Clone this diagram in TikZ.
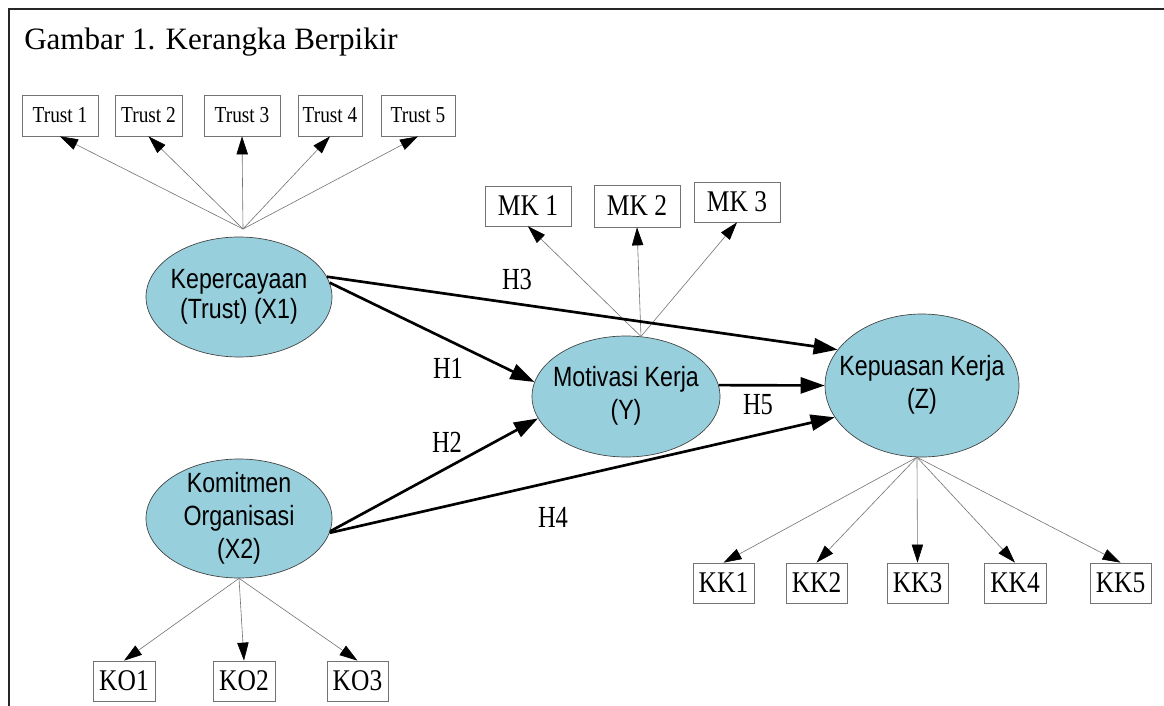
\documentclass[tikz,border=0pt]{standalone}
\usepackage{fontspec}
\usepackage{graphicx}
\setmainfont{Liberation Serif}
\setsansfont{Liberation Sans}
\usetikzlibrary{arrows.meta,shapes.geometric}
\definecolor{lv}{RGB}{151,207,220}
\newcommand{\vst}[2][1.18]{\scalebox{1}[#1]{#2}}
\newcommand{\ellt}[1]{\smash{\makebox[0pt]{\raisebox{-0.3em}{\scalebox{1}[1.2]{\begin{tabular}{@{}c@{}}#1\end{tabular}}}}}}
\begin{document}
\begin{tikzpicture}[x=0.75pt,y=-0.75pt,
  ind/.style={draw=black!55, line width=0.55pt, fill=white, inner sep=0pt, minimum height=30pt, font=\fontsize{19.1}{22}\selectfont},
  tr/.style={ind, font=\fontsize{14.5}{17}\selectfont, minimum height=30.75pt},
  lat/.style={ellipse, draw=black!75, line width=0.5pt, fill=lv, inner sep=0pt, font=\sffamily\fontsize{17.4}{20.6}\selectfont},
  ldarr/.style={draw=black!55, line width=0.45pt, -{Triangle[length=13.5pt,width=8.5pt,color=black]}},
  bdarr/.style={draw=black, line width=2pt, -{Triangle[length=18pt,width=12pt]}},
  hl/.style={inner sep=0pt, font=\fontsize{18.4}{20}\selectfont}]
\useasboundingbox (0,0) rectangle (1164,706);
\fill[white] (0,0) rectangle (1164,706);
\draw[line width=1.5pt, black!85] (9,706) -- (9,9) -- (1164,9);
\node[anchor=base west, inner sep=0pt, font=\fontsize{23.3}{27}\selectfont] (title) at (24,50) {Gambar 1. Kerangka Berpikir};

% indicator boxes: Trust
\node[tr, minimum width=57pt]    (t1) at (60,115.5)  {\vst{Trust 1}};
\node[tr, minimum width=50.25pt] (t2) at (148.5,115.5) {\vst{Trust 2}};
\node[tr, minimum width=57pt]    (t3) at (242,115.5) {\vst{Trust 3}};
\node[tr, minimum width=48pt]    (t4) at (330,115.5) {\vst{Trust 4}};
\node[tr, minimum width=55.5pt]  (t5) at (418,115.5) {\vst{Trust 5}};

% MK boxes
\node[ind, minimum width=64.5pt]  (mk1) at (528,206) {\vst{MK 1}};
\node[ind, minimum width=64.5pt, minimum height=31.5pt] (mk2) at (637,206) {\vst{MK 2}};
\node[ind, minimum width=64.5pt]  (mk3) at (737,202) {\vst{MK 3}};

% KK boxes
\node[ind, minimum width=45.75pt] (kk1) at (723.5,583) {\vst{KK1}};
\node[ind, minimum width=45.75pt] (kk2) at (816.5,583) {\vst{KK2}};
\node[ind, minimum width=45.75pt] (kk3) at (917.5,583) {\vst{KK3}};
\node[ind, minimum width=46.5pt]  (kk4) at (1015,583) {\vst{KK4}};
\node[ind, minimum width=45.75pt] (kk5) at (1120.5,583) {\vst{KK5}};

% KO boxes
\node[ind, minimum width=46.5pt]  (ko1) at (124,681) {\vst{KO1}};
\node[ind, minimum width=46.5pt]  (ko2) at (244,681) {\vst{KO2}};
\node[ind, minimum width=45.75pt] (ko3) at (357.5,681) {\vst{KO3}};

% latent variables
\node[lat, minimum width=139.5pt, minimum height=90pt, font=\sffamily\fontsize{17.4}{18.75}\selectfont] (kep) at (239,297) {\ellt{Kepercayaan\\(Trust) (X1)}};
\node[lat, minimum width=139.5pt, minimum height=89.25pt] (kom) at (239,518.5) {\ellt{Komitmen\\Organisasi\\(X2)}};
\node[lat, minimum width=141pt, minimum height=90.75pt] (mot) at (626,396.5) {\ellt{Motivasi Kerja\\(Y)}};
\node[lat, minimum width=145.5pt, minimum height=107.25pt] (kpz) at (922,385.5) {\ellt{Kepuasan Kerja\\(Z)}};

\coordinate (kepo) at (243,229);

% reflective indicator arrows
\foreach \t in {t1,t2,t3,t4,t5} \draw[ldarr] (kepo) -- (\t.south);
\foreach \m in {mk1,mk2,mk3} \draw[ldarr] (mot.76) -- (\m.south);
\foreach \k in {kk1,kk2,kk3,kk4,kk5} \draw[ldarr] (kpz.-94) -- (\k.north);
\foreach \k in {ko1,ko2,ko3} \draw[ldarr] (kom.south) -- (\k.north);

% structural paths
\draw[bdarr] (kep.13) -- (kpz.157);
\draw[bdarr] (kep.9) -- (mot.171);
\draw[bdarr] (kom.-8) -- (mot.194);
\draw[bdarr] (kom.-9) -- (kpz.200);
\draw[bdarr] (mot.7) -- (kpz.180);

% hypothesis labels
\node[hl] (h3) at (517,279) {\vst[1.25]{H3}};
\node[hl] (h1) at (448,368) {\vst[1.25]{H1}};
\node[hl] (h2) at (447,442) {\vst[1.25]{H2}};
\node[hl] (h4) at (553,517) {\vst[1.25]{H4}};
\node[hl] (h5) at (758,405) {\vst[1.25]{H5}};
\end{tikzpicture}
\end{document}
